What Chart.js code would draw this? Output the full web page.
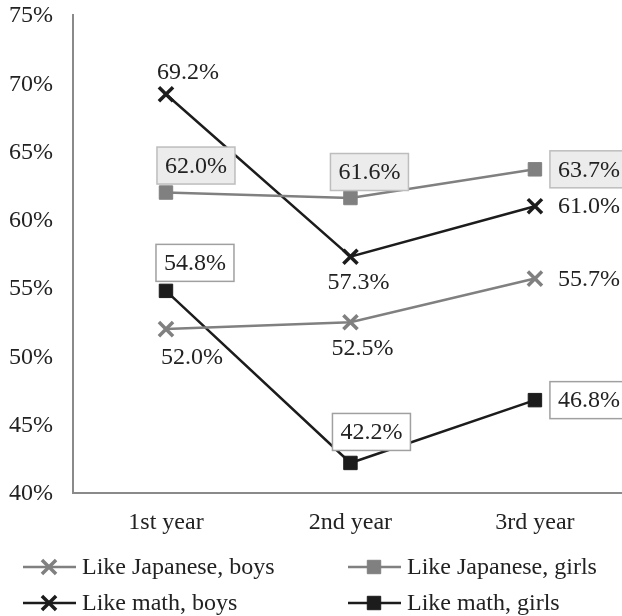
<!DOCTYPE html>
<html>
<head>
<meta charset="utf-8">
<script src="https://cdn.jsdelivr.net/npm/chart.js@4/dist/chart.umd.min.js"></script>
<style>
  html, body { margin: 0; padding: 0; background: #fff; overflow: hidden; }
  canvas { display: block; }
</style>
</head>
<body>
<canvas id="chart" width="622" height="616"></canvas>
<script>
// Data
const categories = ['1st year', '2nd year', '3rd year'];
const japaneseBoys = [52.0, 52.5, 55.7];
const japaneseGirls = [62.0, 61.6, 63.7];
const mathBoys = [69.2, 57.3, 61.0];
const mathGirls = [54.8, 42.2, 46.8];
const yMin = 40;
const yMax = 75;
const yStep = 5;

const FONT = "'Liberation Serif', 'Times New Roman', serif";
const GRAY = '#808080';
const BLACK = '#1c1c1c';
const TEXT = '#222';

// Label placement relative to each point (dx, dy in px)
const labelPlacement = {
  jb: [{ dx: 26, dy: 28 }, { dx: 12, dy: 25 }, { dx: 23, dy: 0, left: true }],
  jg: [{ dx: 30, dy: -27 }, { dx: 19, dy: -26 }, { dx: 23, dy: 0, left: true }],
  mb: [{ dx: 22, dy: -23 }, { dx: 8, dy: 25 }, { dx: 23, dy: 0, left: true }],
  mg: [{ dx: 29, dy: -28 }, { dx: 21, dy: -31 }, { dx: 23, dy: 0, left: true }],
};

// Axis tick labels
const axisLabels = {
  id: 'axisLabels',
  afterDraw(chart) {
    const ctx = chart.ctx;
    const area = chart.chartArea;
    const xs = chart.scales.x;
    const ys = chart.scales.y;
    ctx.save();
    ctx.font = '24px ' + FONT;
    ctx.fillStyle = TEXT;
    ctx.textBaseline = 'middle';
    ctx.textAlign = 'right';
    for (let v = yMin; v <= yMax; v += yStep) {
      ctx.fillText(v + '%', area.left - 20, ys.getPixelForValue(v) + 1);
    }
    ctx.textAlign = 'center';
    categories.forEach((c, i) => {
      ctx.fillText(c, xs.getPixelForValue(i), area.bottom + 30);
    });
    ctx.restore();
  },
};

// Draw value labels (some boxed)
const valueLabels = {
  id: 'valueLabels',
  afterDatasetsDraw(chart) {
    const ctx = chart.ctx;
    ctx.save();
    ctx.font = '24px ' + FONT;
    ctx.textBaseline = 'middle';
    ctx.textAlign = 'center';
    chart.data.datasets.forEach((ds, i) => {
      const meta = chart.getDatasetMeta(i);
      meta.data.forEach((pt, j) => {
        const place = labelPlacement[ds.key][j];
        const text = ds.data[j].y.toFixed(1) + '%';
        const w = ctx.measureText(text).width;
        let cx = pt.x + place.dx;
        if (place.left) cx += w / 2;
        const cy = pt.y + place.dy;
        if (ds.box) {
          const padX = 8, h = 37;
          ctx.fillStyle = ds.box.fill;
          ctx.strokeStyle = ds.box.stroke;
          ctx.lineWidth = 1.5;
          ctx.fillRect(cx - w / 2 - padX, cy - h / 2, w + padX * 2, h);
          ctx.strokeRect(cx - w / 2 - padX, cy - h / 2, w + padX * 2, h);
        }
        ctx.fillStyle = TEXT;
        ctx.fillText(text, cx, cy + 1);
      });
    });
    ctx.restore();
  },
};

// Custom legend below the chart, two columns
const bottomLegend = {
  id: 'bottomLegend',
  afterDraw(chart) {
    const ctx = chart.ctx;
    const cols = [23, 348];
    const rows = [567, 603];
    ctx.save();
    ctx.font = '24px ' + FONT;
    ctx.textBaseline = 'middle';
    ctx.textAlign = 'left';
    chart.data.datasets.forEach((ds, i) => {
      const x = cols[i % 2];
      const y = rows[Math.floor(i / 2)];
      ctx.strokeStyle = ds.borderColor;
      ctx.lineWidth = ds.borderWidth;
      ctx.beginPath();
      ctx.moveTo(x, y);
      ctx.lineTo(x + 53, y);
      ctx.stroke();
      ctx.fillStyle = ds.borderColor;
      ctx.lineWidth = ds.pointBorderWidth;
      Chart.helpers.drawPoint(ctx, {
        pointStyle: ds.pointStyle,
        radius: ds.pointRadius,
        borderWidth: ds.pointBorderWidth,
        rotation: 0,
      }, x + 26, y);
      ctx.fillStyle = TEXT;
      ctx.fillText(ds.label, x + 59, y + 1);
    });
    ctx.restore();
  },
};

function series(label, key, values, color, style, box) {
  const isCross = style === 'crossRot';
  return {
    label, key, box,
    data: values.map((v, i) => ({ x: i, y: v })),
    borderColor: color,
    backgroundColor: color,
    pointBackgroundColor: color,
    pointBorderColor: color,
    borderWidth: 2.5,
    pointStyle: style,
    pointRadius: isCross ? 10 : 9.5,
    pointHoverRadius: isCross ? 10 : 9.5,
    pointBorderWidth: isCross ? 3.5 : 1,
    tension: 0,
    clip: false,
  };
}

const ctx = document.getElementById('chart').getContext('2d');
new Chart(ctx, {
  type: 'line',
  data: {
    datasets: [
      series('Like Japanese, boys', 'jb', japaneseBoys, GRAY, 'crossRot', null),
      series('Like Japanese, girls', 'jg', japaneseGirls, GRAY, 'rect', { fill: '#ececec', stroke: '#bdbdbd' }),
      series('Like math, boys', 'mb', mathBoys, BLACK, 'crossRot', null),
      series('Like math, girls', 'mg', mathGirls, BLACK, 'rect', { fill: '#ffffff', stroke: '#a0a0a0' }),
    ],
  },
  options: {
    responsive: false,
    animation: false,
    layout: { autoPadding: false, padding: { left: 73, right: 0, top: 15, bottom: 123 } },
    plugins: {
      legend: { display: false },
      tooltip: { enabled: false },
    },
    scales: {
      x: {
        type: 'linear',
        min: -0.504,
        max: 2.472,
        grid: { display: false, drawTicks: false },
        border: { display: true, color: '#8a8a8a', width: 2 },
        ticks: { display: false },
      },
      y: {
        min: yMin,
        max: yMax,
        grid: { display: false, drawTicks: false },
        border: { display: true, color: '#8a8a8a', width: 2 },
        ticks: { display: false, stepSize: yStep },
      },
    },
  },
  plugins: [valueLabels, axisLabels, bottomLegend],
});
</script>
</body>
</html>
